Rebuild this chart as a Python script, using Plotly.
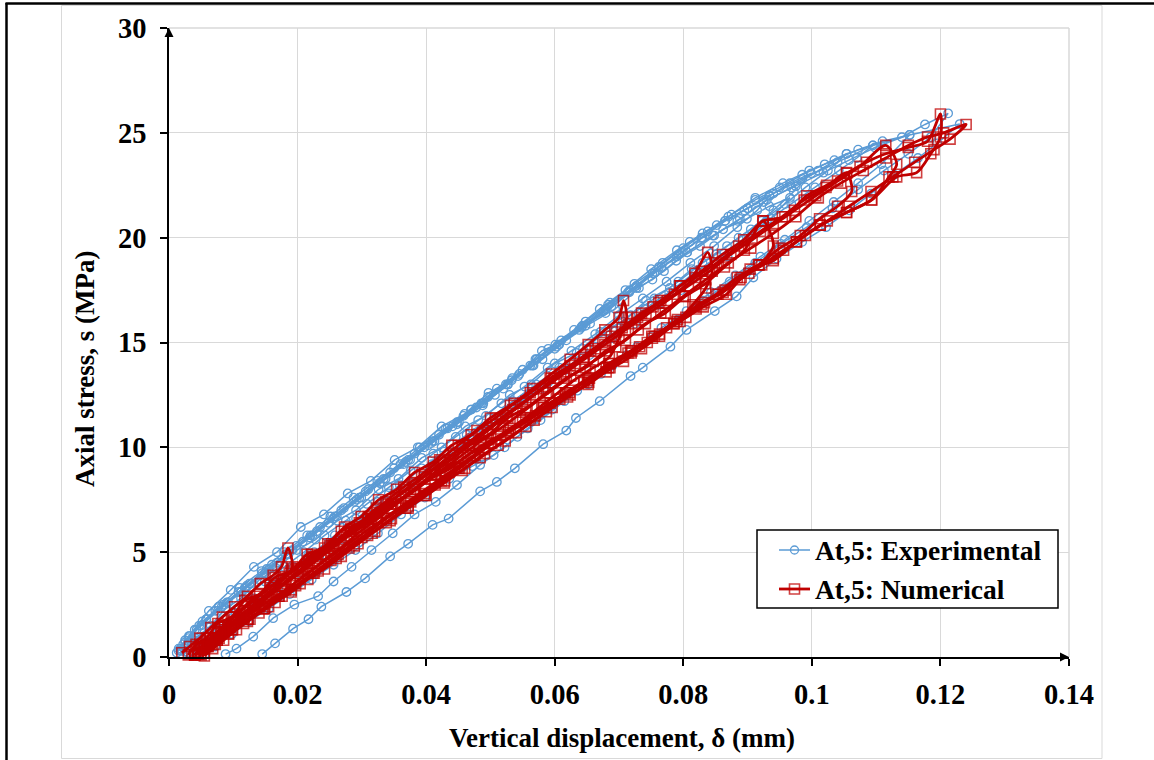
import plotly.graph_objects as go

# ---------------- data ----------------
x_ticks = [0, 0.02, 0.04, 0.06, 0.08, 0.10, 0.12, 0.14]
x_tick_text = ["0", "0.02", "0.04", "0.06", "0.08", "0.1", "0.12", "0.14"]
y_ticks = [0, 5, 10, 15, 20, 25, 30]
series_names = ["At,5: Experimental", "At,5: Numerical"]

# Experimental cycles (loading branch then unloading branch)
exp1_load_x = [0.0020,0.0040,0.0065,0.0092,0.0120,0.0149,0.0179,0.0210,0.0242,0.0275,0.0308,0.0342,0.0376,0.0411,0.0446,0.0481,0.0517,0.0553,0.0589,0.0626,0.0663,0.0700,0.0737,0.0774,0.0811,0.0848,0.0884,0.0915,0.0934]
exp1_load_y = [0.3,0.8,1.5,2.2,2.9,3.6,4.3,5.0,5.8,6.5,7.3,8.1,8.9,9.7,10.5,11.3,12.1,12.9,13.8,14.6,15.4,16.3,17.1,17.9,18.8,19.6,20.5,21.3,22.0]
exp1_unl_x = [0.0900,0.0865,0.0830,0.0793,0.0755,0.0717,0.0679,0.0641,0.0603,0.0565,0.0527,0.0489,0.0451,0.0413,0.0375,0.0337,0.0299,0.0261,0.0223,0.0186,0.0149,0.0112,0.0076,0.0043,0.0018]
exp1_unl_y = [21.4,20.8,20.0,19.2,18.3,17.5,16.6,15.7,14.8,13.9,13.0,12.1,11.2,10.3,9.4,8.5,7.6,6.7,5.8,4.9,4.0,3.1,2.2,1.3,0.4]

exp2_load_x = [0.0030,0.0050,0.0076,0.0104,0.0133,0.0163,0.0194,0.0226,0.0258,0.0291,0.0325,0.0359,0.0393,0.0428,0.0463,0.0499,0.0535,0.0571,0.0607,0.0644,0.0681,0.0718,0.0755,0.0792,0.0830,0.0868,0.0905,0.0940,0.0972,0.0999]
exp2_load_y = [0.2,0.7,1.4,2.1,2.8,3.6,4.3,5.0,5.8,6.6,7.4,8.2,9.0,9.8,10.6,11.4,12.2,13.0,13.8,14.7,15.5,16.3,17.1,17.9,18.8,19.6,20.4,21.3,22.2,23.07]
exp2_unl_x = [0.0966,0.0934,0.0900,0.0865,0.0828,0.0790,0.0752,0.0714,0.0676,0.0638,0.0600,0.0562,0.0524,0.0486,0.0448,0.0410,0.0372,0.0334,0.0296,0.0258,0.0220,0.0182,0.0145,0.0108,0.0072,0.0040,0.0015]
exp2_unl_y = [22.6,22.0,21.4,20.8,20.0,19.1,18.3,17.4,16.5,15.6,14.7,13.9,13.0,12.1,11.2,10.3,9.4,8.5,7.6,6.7,5.8,4.9,4.0,3.1,2.2,1.3,0.4]

exp3_load_x = [0.0045,0.0062,0.0085,0.0112,0.0140,0.0170,0.0202,0.0234,0.0268,0.0302,0.0337,0.0372,0.0408,0.0444,0.0480,0.0516,0.0553,0.0590,0.0627,0.0664,0.0702,0.0740,0.0778,0.0816,0.0854,0.0892,0.0930,0.0968,0.1005,0.1042,0.1070,0.1095]
exp3_load_y = [0.15,0.6,1.2,1.9,2.6,3.3,4.0,4.8,5.6,6.4,7.2,8.0,8.9,9.7,10.6,11.4,12.3,13.1,14.0,14.8,15.7,16.6,17.4,18.3,19.1,19.9,20.8,21.6,22.4,23.2,23.8,24.4]
exp3_unl_x = [0.1054,0.1020,0.0985,0.0950,0.0912,0.0875,0.0838,0.0800,0.0762,0.0724,0.0686,0.0648,0.0610,0.0572,0.0534,0.0496,0.0458,0.0420,0.0382,0.0344,0.0306,0.0268,0.0230,0.0192,0.0155,0.0118,0.0082,0.0050,0.0025]
exp3_unl_y = [24.0,23.5,23.0,22.4,21.8,21.1,20.3,19.5,18.6,17.8,16.9,16.0,15.1,14.2,13.3,12.4,11.5,10.6,9.7,8.8,7.9,7.0,6.0,5.1,4.2,3.3,2.4,1.5,0.7]

exp4_load_x = [0.0055,0.0072,0.0098,0.0125,0.0155,0.0188,0.0222,0.0256,0.0290,0.0325,0.0361,0.0398,0.0436,0.0472,0.0505,0.0542,0.0578,0.0615,0.0652,0.0690,0.0728,0.0766,0.0805,0.0843,0.0881,0.0920,0.0958,0.0996,0.1034,0.1072,0.1108,0.1152]
exp4_load_y = [0.1,0.5,1.1,1.7,2.3,3.0,3.7,4.4,5.1,5.9,6.8,7.6,8.5,9.1,9.63,10.5,11.3,12.2,13.0,13.9,14.8,15.7,16.5,17.4,18.2,19.1,19.9,20.8,21.7,22.6,23.5,24.9]
exp4_unl_x = [0.1110,0.1072,0.1035,0.0996,0.0955,0.0912,0.0870,0.0830,0.0790,0.0750,0.0710,0.0670,0.0630,0.0590,0.0550,0.0510,0.0470,0.0430,0.0390,0.0350,0.0310,0.0272,0.0235,0.0198,0.0160,0.0125,0.0090,0.0058,0.0032,0.0018]
exp4_unl_y = [24.6,24.2,23.7,23.2,22.6,21.9,21.0,20.2,19.4,18.5,17.5,16.6,15.6,14.7,13.7,12.8,11.8,10.9,10.0,9.0,8.0,7.1,6.2,5.3,4.4,3.5,2.6,1.8,1.0,0.3]

exp5_load_x = [0.0088,0.0105,0.0131,0.0162,0.0195,0.0232,0.0256,0.0284,0.0315,0.0348,0.0382,0.0415,0.0448,0.0484,0.0522,0.0558,0.0596,0.0635,0.0672,0.0712,0.0752,0.0792,0.0832,0.0872,0.0912,0.0952,0.0992,0.1032,0.1072,0.1112,0.1150,0.1185,0.1212]
exp5_load_y = [0.14,0.4,0.97,1.85,2.5,2.9,3.6,4.3,5.1,5.9,6.8,7.4,8.2,9.16,10.0,10.9,11.8,12.7,13.5,14.4,15.3,16.1,17.0,17.9,18.8,19.7,20.5,21.4,22.3,23.2,24.0,24.8,25.93]
exp5_unl_x = [0.1176,0.1140,0.1098,0.1058,0.1018,0.0975,0.0930,0.0888,0.0848,0.0806,0.0766,0.0727,0.0688,0.0648,0.0607,0.0567,0.0527,0.0488,0.0448,0.0408,0.0368,0.0328,0.0288,0.0248,0.0208,0.0168,0.0128,0.0092,0.0058,0.0030,0.0015]
exp5_unl_y = [25.4,24.79,24.3,23.7,23.1,22.45,21.8,20.9,20.1,19.3,18.6,17.6,16.7,15.8,14.9,13.9,13.0,12.0,11.1,10.2,9.3,8.3,7.4,6.4,5.5,4.5,3.5,2.6,1.8,0.9,0.3]

exp6_load_x = [0.0145,0.0165,0.0193,0.0217,0.0237,0.0276,0.0305,0.0344,0.0372,0.0410,0.0435,0.0484,0.0510,0.0538,0.0582,0.0618,0.0633,0.0670,0.0718,0.0737,0.0780,0.0805,0.0849,0.0883,0.0909,0.0945,0.0985,0.1022,0.1058,0.1092,0.1128,0.1165,0.1195,0.1230]
exp6_load_y = [0.14,0.65,1.35,1.8,2.4,3.1,3.75,4.8,5.4,6.3,6.6,7.9,8.35,9.0,10.15,10.8,11.4,12.2,13.4,13.8,14.8,15.6,16.5,17.2,18.1,19.0,19.8,20.5,21.3,22.1,23.0,23.8,24.5,25.42]
exp6_unl_x = [0.1152,0.1095,0.1040,0.0985,0.0940,0.0895,0.0852,0.0810,0.0768,0.0727,0.0683,0.0642,0.0601,0.0580,0.0545,0.0520,0.0478,0.0441,0.0403,0.0365,0.0328,0.0292,0.0255,0.0219,0.0185,0.0152,0.0121,0.0085,0.0052,0.0025,0.0012]
exp6_unl_y = [24.9,24.4,23.6,22.8,22.1,21.3,20.6,19.8,18.8,17.7,16.8,15.75,14.9,14.6,13.5,12.8,11.9,11.0,10.1,9.2,8.3,7.5,6.6,5.7,4.9,4.2,3.4,2.5,1.7,0.8,0.2]

exp7_load_x = [0.0025,0.0041,0.0062,0.0088,0.0112,0.0141,0.0168,0.0199,0.0228,0.0262,0.0291,0.0326,0.0357,0.0393,0.0424,0.0461,0.0493,0.0530,0.0563,0.0600,0.0634,0.0671,0.0706,0.0742,0.0779,0.0813,0.0851,0.0886,0.0922,0.0958,0.0990,0.1025,0.1054]
exp7_load_y = [0.25,0.9,1.4,2.3,2.8,3.7,4.2,5.1,5.6,6.5,7.0,8.0,8.5,9.5,10.0,11.0,11.5,12.5,13.0,14.0,14.5,15.5,16.0,17.0,17.6,18.5,19.2,20.0,20.8,21.6,22.4,23.2,24.0]
exp7_unl_x = [0.1010,0.0968,0.0925,0.0884,0.0846,0.0806,0.0770,0.0731,0.0694,0.0655,0.0618,0.0581,0.0543,0.0507,0.0470,0.0433,0.0397,0.0360,0.0324,0.0287,0.0251,0.0215,0.0179,0.0144,0.0110,0.0077,0.0047,0.0022]
exp7_unl_y = [23.2,22.4,21.7,20.8,20.1,19.3,18.4,17.6,16.6,15.9,15.1,14.2,13.4,12.5,11.8,10.9,10.0,9.2,8.4,7.6,6.7,5.8,5.0,4.1,3.3,2.4,1.5,0.6]

exp8_load_x = [0.0035,0.0054,0.0079,0.0103,0.0132,0.0158,0.0189,0.0216,0.0249,0.0278,0.0311,0.0342,0.0377,0.0409,0.0444,0.0477,0.0513,0.0546,0.0583,0.0617,0.0654,0.0689,0.0725,0.0761,0.0797,0.0833,0.0869,0.0903,0.0936,0.0966]
exp8_load_y = [0.1,0.8,1.3,2.1,2.6,3.4,4.0,4.8,5.4,6.3,6.8,7.8,8.3,9.2,9.8,10.7,11.3,12.2,12.8,13.7,14.4,15.2,15.9,16.8,17.5,18.4,19.1,20.0,20.9,21.9]
exp8_unl_x = [0.0934,0.0899,0.0862,0.0826,0.0789,0.0752,0.0716,0.0679,0.0643,0.0606,0.0570,0.0533,0.0497,0.0460,0.0424,0.0387,0.0351,0.0314,0.0278,0.0241,0.0205,0.0168,0.0132,0.0096,0.0062,0.0031]
exp8_unl_y = [21.5,20.9,20.4,19.6,18.9,18.0,17.4,16.4,15.8,14.9,14.2,13.2,12.6,11.6,11.0,10.0,9.4,8.4,7.8,6.8,6.2,5.0,4.3,3.2,2.2,1.0]

# Numerical cycles
num1_load_x = [0.0020,0.0032,0.0048,0.0065,0.0083,0.0102,0.0122,0.0142,0.0162,0.0175,0.0185]
num1_load_y = [0.2,0.5,0.9,1.4,1.9,2.4,2.9,3.5,3.9,4.3,5.2]
num1_unl_x = [0.0192,0.0178,0.0160,0.0140,0.0120,0.0100,0.0082,0.0065,0.0050,0.0040]
num1_unl_y = [4.3,3.7,3.2,2.7,2.2,1.7,1.2,0.8,0.4,0.1]

num2_load_x = [0.0040,0.0055,0.0072,0.0092,0.0113,0.0135,0.0158,0.0182,0.0206,0.0231,0.0257,0.0283,0.0310,0.0337,0.0365,0.0393,0.0421,0.0450,0.0479,0.0508,0.0537,0.0566,0.0595,0.0624,0.0652,0.0678,0.0700,0.0707]
num2_load_y = [0.1,0.5,0.9,1.4,1.9,2.4,3.0,3.6,4.2,4.8,5.4,6.1,6.7,7.4,8.1,8.7,9.4,10.1,10.8,11.4,12.1,12.8,13.5,14.2,14.9,15.6,16.2,17.0]
num2_unl_x = [0.0712,0.0700,0.0685,0.0655,0.0630,0.0605,0.0580,0.0555,0.0528,0.0502,0.0476,0.0450,0.0424,0.0398,0.0372,0.0346,0.0320,0.0294,0.0268,0.0242,0.0216,0.0190,0.0165,0.0140,0.0116,0.0093,0.0072,0.0055]
num2_unl_y = [16.2,15.2,14.3,13.7,13.2,12.6,12.0,11.4,10.8,10.2,9.6,9.0,8.4,7.8,7.2,6.6,6.0,5.4,4.8,4.2,3.7,3.1,2.6,2.1,1.6,1.1,0.6,0.2]

num3_load_x = [0.0055,0.0068,0.0085,0.0105,0.0126,0.0148,0.0171,0.0195,0.0220,0.0245,0.0271,0.0298,0.0325,0.0353,0.0381,0.0409,0.0438,0.0467,0.0496,0.0525,0.0555,0.0585,0.0615,0.0645,0.0675,0.0705,0.0735,0.0765,0.0795,0.0818,0.0838]
num3_load_y = [0.05,0.4,0.8,1.3,1.8,2.3,2.9,3.5,4.1,4.7,5.3,6.0,6.6,7.3,8.0,8.7,9.4,10.1,10.8,11.5,12.2,12.9,13.6,14.3,15.0,15.7,16.4,17.0,17.7,18.3,19.3]
num3_unl_x = [0.0845,0.0835,0.0815,0.0790,0.0763,0.0735,0.0707,0.0680,0.0652,0.0624,0.0596,0.0568,0.0540,0.0512,0.0484,0.0456,0.0428,0.0400,0.0372,0.0344,0.0316,0.0288,0.0260,0.0232,0.0204,0.0176,0.0149,0.0123,0.0098,0.0075,0.0055,0.0040]
num3_unl_y = [18.4,17.6,16.8,16.0,15.3,14.7,14.1,13.6,13.0,12.5,11.9,11.3,10.7,10.1,9.5,8.9,8.3,7.7,7.1,6.5,5.9,5.3,4.7,4.1,3.5,2.9,2.3,1.8,1.3,0.8,0.4,0.1]

num4_load_x = [0.0040,0.0052,0.0068,0.0087,0.0108,0.0130,0.0153,0.0177,0.0202,0.0228,0.0255,0.0282,0.0310,0.0339,0.0368,0.0397,0.0427,0.0457,0.0488,0.0519,0.0550,0.0582,0.0614,0.0646,0.0678,0.0710,0.0742,0.0775,0.0808,0.0841,0.0874,0.0907,0.0940,0.0973,0.1006,0.1040,0.1075,0.1115]
num4_load_y = [0.1,0.4,0.8,1.3,1.8,2.4,2.9,3.5,4.1,4.7,5.3,6.0,6.6,7.3,8.0,8.6,9.3,10.0,10.7,11.4,12.1,12.8,13.5,14.2,14.9,15.6,16.3,17.0,17.7,18.4,19.2,19.9,20.6,21.3,22.0,22.7,23.4,24.4]
num4_unl_x = [0.1132,0.1120,0.1093,0.1054,0.1013,0.0976,0.0940,0.0904,0.0867,0.0831,0.0795,0.0763,0.0732,0.0705,0.0680,0.0645,0.0608,0.0570,0.0528,0.0490,0.0452,0.0414,0.0376,0.0338,0.0300,0.0263,0.0226,0.0190,0.0155,0.0122,0.0092,0.0066,0.0045]
num4_unl_y = [23.5,22.9,21.8,21.2,20.6,19.8,18.9,18.5,17.3,16.7,16.0,15.4,14.8,14.3,13.8,13.1,12.3,11.5,10.7,9.9,9.0,8.2,7.4,6.6,5.7,4.9,4.0,3.2,2.4,1.7,1.1,0.6,0.15]

num5_load_x = [0.0045,0.0058,0.0075,0.0095,0.0117,0.0140,0.0164,0.0189,0.0215,0.0241,0.0268,0.0296,0.0324,0.0353,0.0382,0.0412,0.0442,0.0473,0.0504,0.0535,0.0567,0.0599,0.0631,0.0663,0.0696,0.0729,0.0762,0.0795,0.0828,0.0861,0.0894,0.0924,0.0958,0.0992,0.1023,0.1054,0.1085,0.1115,0.1150,0.1180,0.1200]
num5_load_y = [0.15,0.5,0.9,1.4,1.9,2.5,3.1,3.7,4.3,4.9,5.6,6.2,6.9,7.6,8.3,9.0,9.7,10.4,11.1,11.8,12.5,13.3,14.0,14.7,15.5,16.2,16.9,17.7,18.4,19.2,19.9,20.8,21.0,22.0,22.5,23.07,23.6,24.0,24.3,24.6,25.9]
num5_unl_x = [0.1200,0.1185,0.1163,0.1132,0.1093,0.1054,0.1013,0.0976,0.0940,0.0902,0.0865,0.0828,0.0791,0.0755,0.0720,0.0686,0.0652,0.0617,0.0582,0.0546,0.0510,0.0473,0.0436,0.0399,0.0362,0.0325,0.0288,0.0252,0.0216,0.0181,0.0147,0.0115,0.0086,0.0062,0.0045]
num5_unl_y = [24.8,24.0,23.1,22.9,21.8,21.2,20.6,19.8,19.0,18.3,17.5,16.8,16.1,15.3,14.6,14.0,13.3,12.6,11.9,11.2,10.4,9.6,8.8,8.0,7.2,6.4,5.6,4.8,4.0,3.2,2.5,1.8,1.2,0.6,0.2]

num6_load_x = [0.0045,0.0060,0.0078,0.0099,0.0122,0.0146,0.0171,0.0197,0.0224,0.0252,0.0280,0.0309,0.0338,0.0368,0.0398,0.0429,0.0460,0.0491,0.0523,0.0555,0.0587,0.0620,0.0653,0.0686,0.0719,0.0752,0.0786,0.0820,0.0854,0.0888,0.0922,0.0956,0.0990,0.1024,0.1058,0.1092,0.1126,0.1160,0.1190,0.1215,0.1240]
num6_load_y = [0.2,0.5,0.9,1.3,1.8,2.3,2.9,3.4,4.0,4.6,5.2,5.8,6.4,7.1,7.7,8.4,9.0,9.7,10.3,11.0,11.7,12.4,13.1,13.8,14.5,15.2,15.9,16.6,17.3,18.0,18.7,19.4,20.1,20.8,21.5,22.2,22.9,23.6,24.2,24.7,25.4]
num6_unl_x = [0.1205,0.1180,0.1150,0.1115,0.1080,0.1045,0.1010,0.0975,0.0940,0.0905,0.0870,0.0835,0.0800,0.0765,0.0730,0.0695,0.0660,0.0625,0.0590,0.0555,0.0520,0.0485,0.0450,0.0415,0.0380,0.0345,0.0310,0.0276,0.0242,0.0208,0.0175,0.0143,0.0112,0.0084,0.0060,0.0042]
num6_unl_y = [25.0,24.8,24.4,23.8,23.2,22.6,21.9,21.0,20.2,19.5,18.8,18.0,17.2,16.4,15.6,14.8,14.1,13.4,12.6,11.8,11.0,10.3,9.5,8.7,7.9,7.1,6.4,5.7,4.9,4.1,3.4,2.7,2.0,1.3,0.7,0.25]

num7_load_x = [0.0030,0.0042,0.0058,0.0076,0.0097,0.0118,0.0141,0.0165,0.0190,0.0215,0.0242,0.0268,0.0296,0.0323,0.0352,0.0380,0.0409,0.0438,0.0468,0.0497,0.0527,0.0557,0.0587,0.0618,0.0648,0.0679,0.0710,0.0741,0.0772,0.0803,0.0834,0.0864,0.0895,0.0924]
num7_load_y = [0.1,0.6,0.9,1.6,1.9,2.7,3.0,3.8,4.1,4.9,5.2,6.0,6.4,7.1,7.6,8.2,8.9,9.4,10.1,10.6,11.4,11.9,12.6,13.3,13.8,14.6,15.1,15.9,16.4,17.2,17.8,18.6,19.4,20.8]
num7_unl_x = [0.0940,0.0918,0.0890,0.0862,0.0833,0.0804,0.0774,0.0744,0.0714,0.0684,0.0654,0.0623,0.0593,0.0562,0.0531,0.0500,0.0469,0.0438,0.0407,0.0376,0.0345,0.0314,0.0283,0.0253,0.0223,0.0193,0.0164,0.0136,0.0110,0.0086,0.0064,0.0046]
num7_unl_y = [19.6,18.7,18.1,17.4,16.9,16.2,15.7,15.0,14.5,13.8,13.3,12.6,12.1,11.4,10.9,10.2,9.7,9.0,8.5,7.8,7.3,6.6,6.1,5.4,4.8,4.2,3.5,2.9,2.2,1.5,0.9,0.3]

num8_load_x = [0.0050,0.0061,0.0075,0.0092,0.0111,0.0131,0.0152,0.0175,0.0198,0.0222,0.0247,0.0273,0.0299,0.0326,0.0354,0.0382,0.0411,0.0440,0.0470,0.0500,0.0531,0.0562,0.0593,0.0624,0.0656,0.0688,0.0720,0.0753,0.0786,0.0819,0.0852,0.0886,0.0920,0.0954,0.0988,0.1022,0.1054]
num8_load_y = [0.1,0.5,0.8,1.4,1.8,2.5,2.9,3.7,4.2,4.9,5.4,6.2,6.7,7.5,8.0,8.8,9.3,10.1,10.6,11.4,12.0,12.6,13.3,13.9,14.6,15.3,15.9,16.7,17.3,18.1,18.8,19.6,20.3,21.0,21.8,22.4,23.1]
num8_unl_x = [0.1062,0.1040,0.1012,0.0982,0.0950,0.0917,0.0884,0.0851,0.0818,0.0785,0.0751,0.0718,0.0684,0.0651,0.0617,0.0583,0.0550,0.0516,0.0482,0.0449,0.0415,0.0382,0.0348,0.0315,0.0282,0.0250,0.0218,0.0187,0.0157,0.0128,0.0101,0.0076,0.0054]
num8_unl_y = [22.2,21.5,20.9,20.1,19.5,18.7,18.1,17.3,16.7,15.9,15.3,14.6,14.0,13.2,12.6,11.9,11.3,10.6,10.0,9.3,8.7,8.0,7.3,6.6,6.0,5.3,4.6,4.0,3.3,2.6,1.9,1.2,0.5]

exp_cycles = [
    (exp1_load_x, exp1_load_y, exp1_unl_x, exp1_unl_y),
    (exp2_load_x, exp2_load_y, exp2_unl_x, exp2_unl_y),
    (exp3_load_x, exp3_load_y, exp3_unl_x, exp3_unl_y),
    (exp4_load_x, exp4_load_y, exp4_unl_x, exp4_unl_y),
    (exp5_load_x, exp5_load_y, exp5_unl_x, exp5_unl_y),
    (exp6_load_x, exp6_load_y, exp6_unl_x, exp6_unl_y),
    (exp7_load_x, exp7_load_y, exp7_unl_x, exp7_unl_y),
    (exp8_load_x, exp8_load_y, exp8_unl_x, exp8_unl_y),
]
num_cycles = [
    (num1_load_x, num1_load_y, num1_unl_x, num1_unl_y),
    (num2_load_x, num2_load_y, num2_unl_x, num2_unl_y),
    (num3_load_x, num3_load_y, num3_unl_x, num3_unl_y),
    (num7_load_x, num7_load_y, num7_unl_x, num7_unl_y),
    (num4_load_x, num4_load_y, num4_unl_x, num4_unl_y),
    (num8_load_x, num8_load_y, num8_unl_x, num8_unl_y),
    (num5_load_x, num5_load_y, num5_unl_x, num5_unl_y),
    (num6_load_x, num6_load_y, num6_unl_x, num6_unl_y),
]


def join_cycles(cycles):
    xs, ys = [], []
    for lx, ly, ux, uy in cycles:
        xs += list(lx) + list(ux) + [None]
        ys += list(ly) + list(uy) + [None]
    return xs, ys


exp_x, exp_y = join_cycles(exp_cycles)
num_x, num_y = join_cycles(num_cycles)

# ---------------- layout constants ----------------
W, H = 1154, 760
ML, MR, MT, MB = 169, 85, 28, 103
PW, PH = W - ML - MR, H - MT - MB
FONT = "Liberation Serif"
BLUE = "#5B9BD5"
RED = "#C00000"
RED_MK = "rgba(192,0,0,0.75)"
GRID = "#D9D9D9"


def px(xp):
    return (xp - ML) / PW


def py(yp):
    return (H - MB - yp) / PH


blue_line = dict(color=BLUE, width=1.5)
blue_marker = dict(symbol="circle-open", size=8.5, color=BLUE, line=dict(width=1.3, color=BLUE))
red_line = dict(color=RED, width=2.8, shape="spline", smoothing=0.8)
red_marker = dict(symbol="square-open", size=10, color=RED_MK, line=dict(width=1.6, color=RED_MK))

fig = go.Figure()
fig.add_trace(go.Scatter(
    x=exp_x, y=exp_y, mode="lines+markers", name=series_names[0], showlegend=False,
    line=blue_line, marker=blue_marker, cliponaxis=False, connectgaps=False,
))
fig.add_trace(go.Scatter(
    x=num_x, y=num_y, mode="lines+markers", name=series_names[1], showlegend=False,
    line=red_line, marker=red_marker, cliponaxis=False, connectgaps=False,
))

tickfont = dict(family=FONT, size=28.5, color="black", weight="bold")
fig.update_xaxes(
    range=[0, 0.14], tickvals=x_ticks, ticktext=x_tick_text, automargin=False,
    showgrid=True, gridcolor=GRID, gridwidth=1, zeroline=False,
    showline=True, linecolor="black", linewidth=1.5,
    ticks="outside", ticklen=7, tickwidth=1.5, tickcolor="black",
    tickfont=tickfont, ticklabelstandoff=4,
)
fig.update_yaxes(
    range=[0, 30], tickvals=y_ticks, automargin=False,
    showgrid=True, gridcolor=GRID, gridwidth=1, zeroline=False,
    showline=True, linecolor="black", linewidth=1.5,
    ticks="outside", ticklen=7, tickwidth=1.5, tickcolor="black",
    tickfont=tickfont, ticklabelstandoff=8,
)

# legend box geometry (pixels in the figure)
LG_X0, LG_X1, LG_Y0, LG_Y1 = 757, 1058, 530, 608
LG_SYM0, LG_SYM1, LG_TXT = 779, 810, 813
LG_ROWS = [550, 589]

shapes = [
    # chart-area frame (light grey)
    dict(type="rect", xref="paper", yref="paper", x0=px(61.5), x1=px(1102), y0=py(758.5), y1=py(5.5),
         line=dict(color=GRID, width=1), layer="below"),
    # plot border top/right (light grey)
    dict(type="line", xref="paper", yref="paper", x0=0, x1=1, y0=1, y1=1, line=dict(color=GRID, width=1.5)),
    dict(type="line", xref="paper", yref="paper", x0=1, x1=1, y0=0, y1=1, line=dict(color=GRID, width=1.5)),
    # outer black frame (left & top)
    dict(type="line", xref="paper", yref="paper", x0=px(6.5), x1=px(6.5), y0=py(762), y1=py(3), line=dict(color="black", width=2.5)),
    dict(type="line", xref="paper", yref="paper", x0=px(5.5), x1=px(1160), y0=py(3.5), y1=py(3.5), line=dict(color="black", width=2.5)),
    # legend box
    dict(type="rect", xref="paper", yref="paper", x0=px(LG_X0), x1=px(LG_X1), y0=py(LG_Y1), y1=py(LG_Y0),
         line=dict(color="black", width=1.5), fillcolor="white", layer="above"),
    # legend symbols: lines
    dict(type="line", xref="paper", yref="paper", x0=px(LG_SYM0), x1=px(LG_SYM1), y0=py(LG_ROWS[0]), y1=py(LG_ROWS[0]),
         line=dict(color=BLUE, width=1.5), layer="above"),
    dict(type="line", xref="paper", yref="paper", x0=px(LG_SYM0), x1=px(LG_SYM1), y0=py(LG_ROWS[1]), y1=py(LG_ROWS[1]),
         line=dict(color=RED, width=2.8), layer="above"),
    # legend symbols: markers
    dict(type="circle", xref="paper", yref="paper",
         x0=px((LG_SYM0 + LG_SYM1) / 2 - 4), x1=px((LG_SYM0 + LG_SYM1) / 2 + 4),
         y0=py(LG_ROWS[0] + 4), y1=py(LG_ROWS[0] - 4),
         line=dict(color=BLUE, width=1.3), fillcolor="rgba(0,0,0,0)", layer="above"),
    dict(type="rect", xref="paper", yref="paper",
         x0=px((LG_SYM0 + LG_SYM1) / 2 - 5), x1=px((LG_SYM0 + LG_SYM1) / 2 + 5),
         y0=py(LG_ROWS[1] + 5), y1=py(LG_ROWS[1] - 5),
         line=dict(color=RED_MK, width=1.6), fillcolor="rgba(0,0,0,0)", layer="above"),
]
fig.update_layout(shapes=shapes)

legend_font = dict(family=FONT, size=27.5, color="black", weight="bold")
annotations = [
    dict(x=0.14, y=0, ax=0.1385, ay=0, xref="x", yref="y", axref="x", ayref="y",
         showarrow=True, arrowhead=2, arrowsize=1.2, arrowwidth=1.5, arrowcolor="black", text=""),
    dict(x=0, y=30, ax=0, ay=29.6, xref="x", yref="y", axref="x", ayref="y",
         showarrow=True, arrowhead=2, arrowsize=1.2, arrowwidth=1.5, arrowcolor="black", text=""),
    dict(x=px(622), y=py(738), xref="paper", yref="paper", showarrow=False,
         text="Vertical displacement, δ (mm)", font=dict(family=FONT, size=27, color="black", weight="bold"),
         xanchor="center", yanchor="middle"),
    dict(x=px(85), y=py(369), xref="paper", yref="paper", showarrow=False, textangle=-90,
         text="Axial stress, s (MPa)", font=dict(family=FONT, size=27, color="black", weight="bold"),
         xanchor="center", yanchor="middle"),
    dict(x=px(LG_TXT), y=py(LG_ROWS[0]), xref="paper", yref="paper", showarrow=False,
         text=series_names[0], font=legend_font, xanchor="left", yanchor="middle"),
    dict(x=px(LG_TXT), y=py(LG_ROWS[1]), xref="paper", yref="paper", showarrow=False,
         text=series_names[1], font=legend_font, xanchor="left", yanchor="middle"),
]
fig.update_layout(annotations=annotations)

fig.update_layout(
    width=W, height=H,
    margin=dict(l=ML, r=MR, t=MT, b=MB, pad=0),
    paper_bgcolor="white", plot_bgcolor="white",
    font=dict(family=FONT, color="black"),
    showlegend=False,
)

fig.write_html("out.html", config={"displayModeBar": False},
               post_script="document.body.style.margin='0px';")
